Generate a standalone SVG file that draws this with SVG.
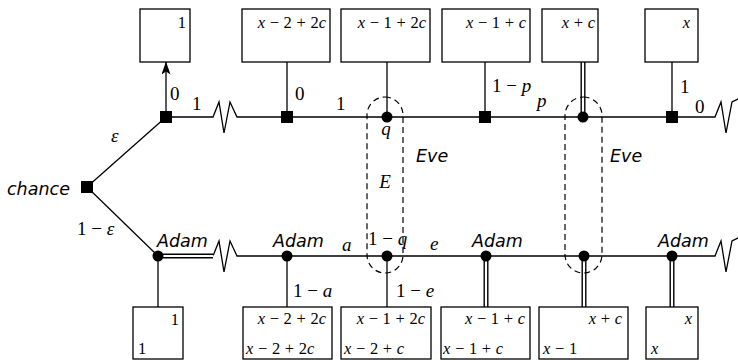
<svg xmlns="http://www.w3.org/2000/svg" width="738" height="360" viewBox="0 0 738 360">
<defs>
<style>
.ln{fill:none;stroke:#000;stroke-width:1.3}
.dbl{fill:none;stroke:#000;stroke-width:5}
.dblw{fill:none;stroke:#fff;stroke-width:2.2}
.box{fill:#fff;stroke:#000;stroke-width:1.3}
.dash{fill:none;stroke:#000;stroke-width:1.2;stroke-dasharray:6,4}
.m{font-family:'Liberation Serif','Times New Roman','DejaVu Serif',serif;font-size:16.5px;word-spacing:0.5px}
.e{font-family:'Liberation Serif','Times New Roman','DejaVu Serif',serif;font-size:19px;word-spacing:0px}
.i{font-style:italic}
.s{font-family:'DejaVu Sans',sans-serif;font-style:oblique;font-weight:200;font-size:17.5px}
.end{text-anchor:end}
.mid{text-anchor:middle}
</style>
<marker id="arr" viewBox="0 0 13 9" refX="12.5" refY="4.5" markerWidth="13" markerHeight="9" markerUnits="userSpaceOnUse" orient="auto">
<path d="M0,0 L13,4.5 L0,9 L3,4.5 z" fill="#000"/>
</marker>
</defs>
<rect width="738" height="360" fill="#fff"/>

<g id="connectors">
<line class="ln" x1="87" y1="187" x2="166" y2="117"/>
<line class="ln" x1="87" y1="187" x2="158" y2="256"/>
<line class="ln" x1="166" y1="117" x2="166" y2="62" marker-end="url(#arr)"/>
<path class="ln" d="M166,117 H213 L219,102 L224,133 L230,102 L237,117 H715 L721,102 L726,133 L732,102 L740,98"/>
<path class="ln" d="M213,256 L219,241 L224,272 L230,241 L237,256 H715 L721,241 L726,272 L732,241 L740,237"/>
<line class="dbl" x1="158" y1="256" x2="213" y2="256"/>
<line class="dblw" x1="158" y1="256" x2="213.5" y2="256"/>
<line class="ln" x1="287" y1="62" x2="287" y2="117"/>
<line class="ln" x1="387" y1="62" x2="387" y2="117"/>
<line class="ln" x1="485" y1="62" x2="485" y2="117"/>
<line class="dbl" x1="583" y1="62" x2="583" y2="117"/>
<line class="dblw" x1="583" y1="61" x2="583" y2="117"/>
<line class="ln" x1="672" y1="62" x2="672" y2="117"/>
<line class="ln" x1="158" y1="256" x2="158" y2="307"/>
<line class="ln" x1="287" y1="256" x2="287" y2="307"/>
<line class="ln" x1="387" y1="256" x2="387" y2="307"/>
<line class="dbl" x1="486" y1="256" x2="486" y2="307"/>
<line class="dblw" x1="486" y1="256" x2="486" y2="308"/>
<line class="dbl" x1="584" y1="256" x2="584" y2="307"/>
<line class="dblw" x1="584" y1="256" x2="584" y2="308"/>
<line class="dbl" x1="672" y1="256" x2="672" y2="307"/>
<line class="dblw" x1="672" y1="256" x2="672" y2="308"/>
<text class="e i" x="111" y="142">ε</text>
<text class="e" x="77" y="235">1 − <tspan class="i">ε</tspan></text>
<text class="e" x="170" y="100">0</text>
<text class="e" x="192" y="110">1</text>
<text class="e" x="295" y="100">0</text>
<text class="e" x="336" y="110">1</text>
<text class="e" x="492" y="92">1 − <tspan class="i">p</tspan></text>
<text class="e i" x="537" y="107">p</text>
<text class="e" x="680" y="93">1</text>
<text class="e" x="695" y="113">0</text>
<text class="e i" x="342" y="251">a</text>
<text class="e" x="368" y="245">1 − <tspan class="i">q</tspan></text>
<text class="e i" x="430" y="250">e</text>
<text class="e" x="293" y="297">1 − <tspan class="i">a</tspan></text>
<text class="e" x="396" y="297">1 − <tspan class="i">e</tspan></text>
</g>

<g id="infosets">
<rect class="dash" x="367" y="97" width="36" height="176" rx="18" ry="18"/>
<rect class="dash" x="565" y="97" width="37" height="176" rx="18.5" ry="18.5"/>
<text class="e i mid" x="386" y="135">q</text>
<text class="s" x="416" y="162">Eve</text>
<text class="e i mid" x="385" y="188">E</text>
<text class="s" x="610" y="162">Eve</text>
</g>

<g id="chance">
<rect x="81" y="181" width="12" height="12" fill="#000"/>
<text class="s" x="7" y="195">chance</text>
</g>
<g id="n-top1"><rect x="160" y="111" width="12" height="12" fill="#000"/></g>
<g id="n-top2"><rect x="281" y="111" width="12" height="12" fill="#000"/></g>
<g id="n-top3"><circle cx="387" cy="117" r="5.5" fill="#000"/></g>
<g id="n-top4"><rect x="479" y="111" width="12" height="12" fill="#000"/></g>
<g id="n-top5"><circle cx="583" cy="117" r="5.5" fill="#000"/></g>
<g id="n-top6"><rect x="666" y="111" width="12" height="12" fill="#000"/></g>

<g id="n-bot0"><circle cx="158" cy="256" r="5.5" fill="#000"/><text class="s" x="157" y="247">Adam</text></g>
<g id="n-bot1"><circle cx="287" cy="256" r="5.5" fill="#000"/><text class="s" x="273" y="247">Adam</text></g>
<g id="n-bot2"><circle cx="387" cy="256" r="5.5" fill="#000"/></g>
<g id="n-bot3"><circle cx="486" cy="256" r="5.5" fill="#000"/><text class="s" x="472" y="247">Adam</text></g>
<g id="n-bot4"><circle cx="584" cy="256" r="5.5" fill="#000"/></g>
<g id="n-bot5"><circle cx="672" cy="256" r="5.5" fill="#000"/><text class="s" x="658" y="247">Adam</text></g>

<g id="p-top1"><rect class="box" x="140" y="9" width="50" height="53"/><text class="m end" x="186" y="28">1</text></g>
<g id="p-top2"><rect class="box" x="242" y="9" width="88" height="53"/><text class="m end" x="326" y="28"><tspan class="i">x</tspan> − 2 + 2<tspan class="i">c</tspan></text></g>
<g id="p-top3"><rect class="box" x="341" y="9" width="89" height="53"/><text class="m end" x="426" y="28"><tspan class="i">x</tspan> − 1 + 2<tspan class="i">c</tspan></text></g>
<g id="p-top4"><rect class="box" x="442" y="9" width="88" height="53"/><text class="m end" x="526" y="28"><tspan class="i">x</tspan> − 1 + <tspan class="i">c</tspan></text></g>
<g id="p-top5"><rect class="box" x="542" y="9" width="56" height="53"/><text class="m end" x="595" y="28"><tspan class="i">x</tspan> + <tspan class="i">c</tspan></text></g>
<g id="p-top6"><rect class="box" x="645" y="9" width="53" height="53"/><text class="m end i" x="690" y="28">x</text></g>

<g id="p-bot0"><rect class="box" x="133" y="307" width="50" height="52"/><text class="m end" x="179" y="325">1</text><text class="m" x="138" y="354">1</text></g>
<g id="p-bot1"><rect class="box" x="243" y="307" width="89" height="52"/><text class="m end" x="326" y="324"><tspan class="i">x</tspan> − 2 + 2<tspan class="i">c</tspan></text><text class="m" x="246" y="354"><tspan class="i">x</tspan> − 2 + 2<tspan class="i">c</tspan></text></g>
<g id="p-bot2"><rect class="box" x="341" y="307" width="90" height="52"/><text class="m end" x="425" y="324"><tspan class="i">x</tspan> − 1 + 2<tspan class="i">c</tspan></text><text class="m" x="344" y="354"><tspan class="i">x</tspan> − 2 + <tspan class="i">c</tspan></text></g>
<g id="p-bot3"><rect class="box" x="441" y="307" width="89" height="52"/><text class="m end" x="525" y="324"><tspan class="i">x</tspan> − 1 + <tspan class="i">c</tspan></text><text class="m" x="443" y="354"><tspan class="i">x</tspan> − 1 + <tspan class="i">c</tspan></text></g>
<g id="p-bot4"><rect class="box" x="539" y="307" width="89" height="52"/><text class="m end" x="622" y="324"><tspan class="i">x</tspan> + <tspan class="i">c</tspan></text><text class="m" x="543" y="354"><tspan class="i">x</tspan> − 1</text></g>
<g id="p-bot5"><rect class="box" x="646" y="307" width="52" height="52"/><text class="m end i" x="692" y="324">x</text><text class="m i" x="651" y="354">x</text></g>
</svg>
